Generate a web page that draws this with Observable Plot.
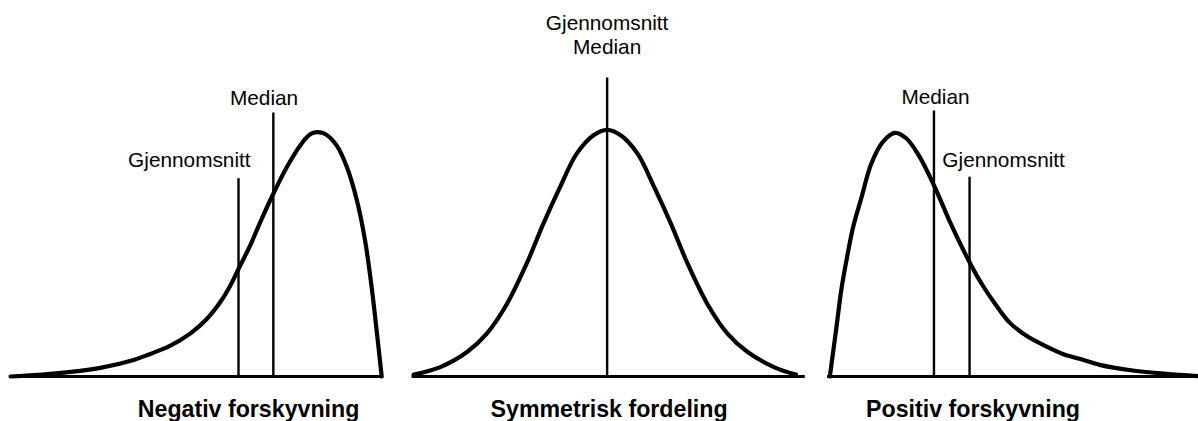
<!DOCTYPE html>
<html>
<head>
<meta charset="utf-8">
<script src="https://cdn.jsdelivr.net/npm/d3@7"></script>
<script src="https://cdn.jsdelivr.net/npm/@observablehq/plot@0.6"></script>
<style>
  html, body { margin: 0; padding: 0; background: #fff; }
</style>
</head>
<body>
<div id="chart"></div>
<script>
// Panels (facets)
const panels = ["neg", "sym", "pos"];
const panelTitles = ["Negativ forskyvning", "Symmetrisk fordeling", "Positiv forskyvning"];
const titleX = [64.1, 52.6, 42.0];

// Curves (x along panel, density height)
const negX = [2.6, 12.9, 25.8, 34.4, 38.7, 43.9, 49.0, 53.3, 56.8, 59.4, 61.5, 64.5, 67.1, 70.5, 74.0, 77.4, 80.0, 81.7, 83.9, 86.9, 89.5, 92.1, 94.2, 95.9, 97.2, 98.5];
const negY = [0, 0.7, 2.3, 4.4, 6.0, 8.2, 11.4, 15.3, 19.8, 24.2, 28.6, 34.8, 41.0, 48.6, 55.7, 61.4, 64.4, 65.0, 64.5, 61.4, 55.7, 46.8, 36.2, 23.8, 12.2, 0];

const symX = [2.1, 9.0, 15.9, 21.0, 26.2, 31.3, 35.6, 39.9, 44.2, 48.5, 52.1, 55.7, 60.0, 64.3, 68.6, 72.9, 78.0, 83.2, 88.4, 95.2, 100.9];
const symY = [0.5, 2.5, 6.5, 11.4, 19.3, 30.0, 40.6, 50.3, 59.2, 64.1, 65.6, 64.1, 59.2, 50.3, 40.6, 30.0, 19.3, 11.4, 6.5, 2.5, 0.5];

const posX = [5.0, 6.7, 8.0, 9.3, 11.0, 13.2, 15.7, 18.7, 21.8, 24.8, 28.2, 32.1, 36.0, 41.1, 44.5, 48.0, 51.4, 55.7, 60.9, 65.2, 69.5, 74.7, 83.3, 91.9, 100];
const posY = [0, 13.1, 23.3, 30.9, 39.7, 47.7, 56.6, 62.4, 64.8, 63.3, 58.4, 50.4, 41.2, 30.4, 24.2, 18.9, 14.4, 10.9, 8.0, 6.0, 4.7, 3.1, 1.6, 0.7, 0.1];

// Baselines
const baseStart = [2.6, 1.7, 4.4];
const baseEnd = [98.9, 103.3, 100];

// Vertical marker lines (mean / median)
const markerPanel = ["neg", "neg", "sym", "pos", "pos"];
const markerX = [61.5, 70.5, 52.1, 31.9, 41.1];
const markerTop = [52.6, 70.1, 79.4, 70.6, 53.0];

// Marker labels
const labelPanel = ["neg", "neg", "sym", "pos", "pos"];
const labelText = ["Median", "Gjennomsnitt", "Gjennomsnitt\nMedian", "Median", "Gjennomsnitt"];
const labelX = [68.1, 48.8, 52.1, 32.3, 49.9];
const labelY = [72.3, 55.6, 85.9, 72.5, 55.6];

// Build tables
const curves = [
  ...negX.map((x, i) => ({panel: "neg", x, y: negY[i]})),
  ...symX.map((x, i) => ({panel: "sym", x, y: symY[i]})),
  ...posX.map((x, i) => ({panel: "pos", x, y: posY[i]}))
];
const baselines = panels.map((p, i) => ({panel: p, x1: baseStart[i], x2: baseEnd[i], y: 0}));
const markers = markerPanel.map((p, i) => ({panel: p, x: markerX[i], top: markerTop[i]}));
const labels = labelPanel.map((p, i) => ({panel: p, text: labelText[i], x: labelX[i], y: labelY[i]}));
const titles = panels.map((p, i) => ({panel: p, text: panelTitles[i], x: titleX[i]}));

const chart = Plot.plot({
  width: 1198,
  height: 421,
  marginLeft: 0,
  marginRight: 0,
  marginTop: 0,
  marginBottom: 45,
  style: {fontFamily: "'Liberation Sans', Arial, Helvetica, sans-serif", background: "#fff", color: "#000", overflow: "visible"},
  fx: {domain: panels, paddingInner: 0.044, paddingOuter: 0, axis: null},
  x: {domain: [0, 100], axis: null},
  y: {domain: [0, 100], axis: null},
  marks: [
    Plot.ruleY(baselines, {fx: "panel", y: "y", x1: "x1", x2: "x2", stroke: "#000", strokeWidth: 3}),
    Plot.ruleX(markers, {fx: "panel", x: "x", y1: 0, y2: "top", stroke: "#000", strokeWidth: 2.4}),
    Plot.line(curves, {fx: "panel", x: "x", y: "y", z: "panel", curve: "catmull-rom", stroke: "#000", strokeWidth: 4.2, strokeLinejoin: "round"}),
    Plot.text(labels, {fx: "panel", x: "x", y: "y", text: "text", fontSize: 20.8, lineAnchor: "bottom", lineHeight: 1.13, fill: "#000"}),
    Plot.text(titles, {fx: "panel", x: "x", text: "text", frameAnchor: "bottom", dy: 40, lineAnchor: "bottom", fontSize: 23.2, fontWeight: "bold", fill: "#000"})
  ]
});
document.getElementById("chart").appendChild(chart);
</script>
</body>
</html>
